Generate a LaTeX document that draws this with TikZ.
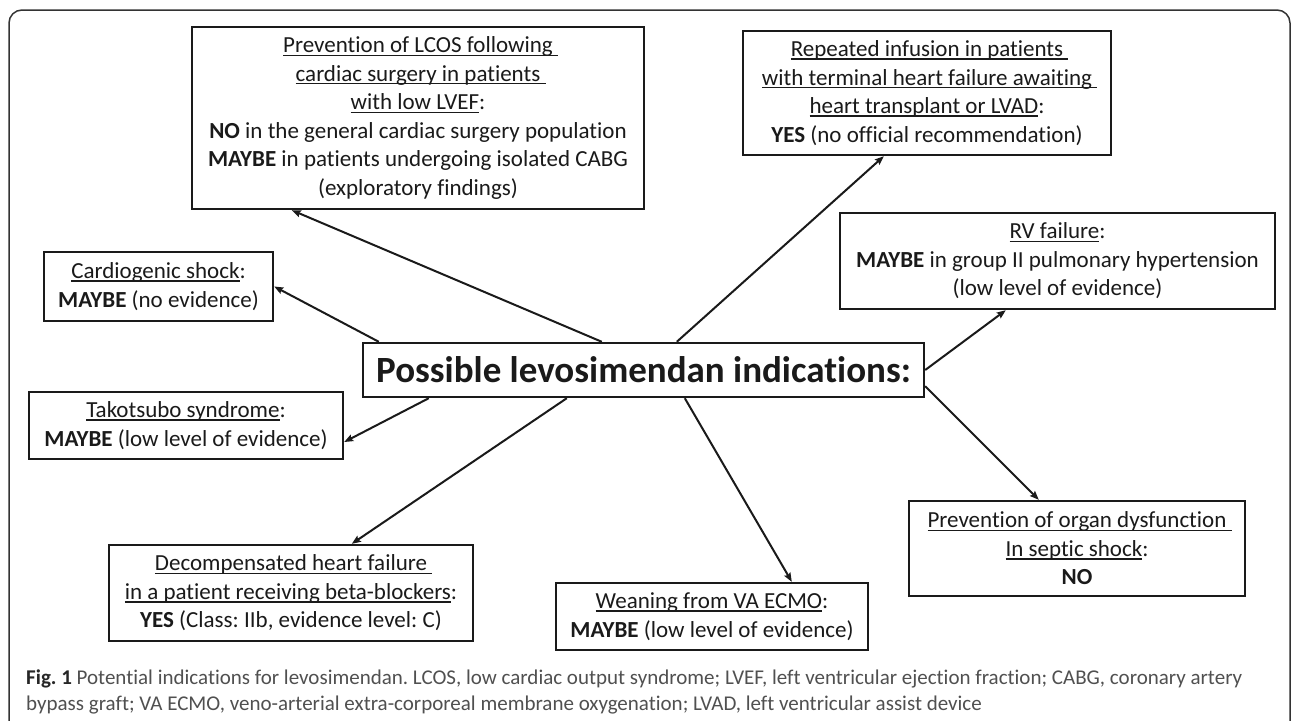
\documentclass[tikz,border=0pt]{standalone}
\usepackage{fontspec}
\setmainfont[Ligatures={NoCommon}]{Carlito}
\usetikzlibrary{arrows.meta,calc}
\definecolor{ink}{HTML}{1A1A1A}
\definecolor{capgray}{HTML}{505050}
\newlength\myulw
\newcommand\myul[1]{\settowidth\myulw{#1}\makebox[0pt][l]{\rule[-3.2pt]{\myulw}{1.4pt}}#1}
\tikzset{
  box/.style={draw=ink, line width=2.4pt, inner sep=0pt, align=center, text=ink,
    font=\fontsize{23}{28.5}\selectfont},
  conn/.style={draw=ink, line width=2pt, -{Stealth[length=9pt,width=7pt,inset=1.5pt]}},
  captxt/.style={anchor=base west, inner sep=0pt, text=capgray, font=\fontsize{21}{26}\selectfont}
}
\frenchspacing
\begin{document}
\begin{tikzpicture}[x=1pt,y=-1pt]
\useasboundingbox (0,0) rectangle (1292,720);
\fill[white] (0,0) rectangle (1292,720);
\begin{scope}
\clip (0,0) rectangle (1292,720);
\draw[line width=1.5pt, draw=black!80, rounded corners=13pt] (9,10) rectangle (1290,780);
\end{scope}

\node[box, minimum width=561pt, minimum height=54pt, font=\fontsize{37}{44}\selectfont\bfseries] (c) at (643.5,370) {Possible levosimendan indications:};

\node[box, minimum width=452pt, minimum height=182pt] (lcos) at (418,118) {\myul{Prevention of LCOS following\ }\\\myul{cardiac surgery in patients\ }\\\myul{with low LVEF}:\\\textbf{NO} in the general cardiac surgery population\\\textbf{MAYBE} in patients undergoing isolated CABG\\(exploratory findings)};

\node[box, minimum width=229pt, minimum height=69pt] (cardio) at (158.5,286.5) {\myul{Cardiogenic shock}:\\\textbf{MAYBE} (no evidence)};

\node[box, minimum width=368pt, minimum height=124pt] (rep) at (927,93) {\myul{Repeated infusion in patients\ }\\\myul{with terminal heart failure awaiting\ }\\\myul{heart transplant or LVAD}:\\\textbf{YES} (no official recommendation)};

\node[box, minimum width=435pt, minimum height=96pt] (rv) at (1057.5,261) {\myul{RV failure}:\\\textbf{MAYBE} in group II pulmonary hypertension\\(low level of evidence)};

\node[box, minimum width=314pt, minimum height=67pt] (tako) at (186,425.5) {\myul{Takotsubo syndrome}:\\\textbf{MAYBE} (low level of evidence)};

\node[box, minimum width=364pt, minimum height=96pt] (decomp) at (291,593) {\myul{Decompensated heart failure\ }\\\myul{in a patient receiving beta-blockers}:\\\textbf{YES} (Class: IIb, evidence level: C)};

\node[box, minimum width=312pt, minimum height=67pt] (wean) at (712,616.5) {\myul{Weaning from VA ECMO}:\\\textbf{MAYBE} (low level of evidence)};

\node[box, minimum width=336pt, minimum height=95pt] (septic) at (1077,548.5) {\myul{Prevention of organ dysfunction\ }\\\myul{In septic shock}:\\\textbf{NO}};

\draw[conn] ([xshift=240pt]c.north west) -- ([xshift=101pt]lcos.south west);
\draw[conn] ([xshift=17pt]c.north west) -- (cardio.east);
\draw[conn] ([xshift=315pt]c.north west) -- ([xshift=142pt]rep.south west);
\draw[conn] (c.east) -- ([xshift=167pt]rv.south west);
\draw[conn] ([xshift=67pt]c.south west) -- ([yshift=-16.5pt]tako.east);
\draw[conn] ([xshift=205pt]c.south west) -- ([xshift=244pt]decomp.north west);
\draw[conn] ([xshift=323pt]c.south west) -- ([xshift=237pt]wean.north west);
\draw[conn] ([yshift=12pt]c.south east) -- ([xshift=131pt]septic.north west);

\node[captxt] (cap1) at (26,684) {\textbf{\color{black!85}Fig. 1} Potential indications for levosimendan. LCOS, low cardiac output syndrome; LVEF, left ventricular ejection fraction; CABG, coronary artery};
\node[captxt] (cap2) at (26,710) {bypass graft; VA ECMO, veno-arterial extra-corporeal membrane oxygenation; LVAD, left ventricular assist device};
\end{tikzpicture}
\end{document}
